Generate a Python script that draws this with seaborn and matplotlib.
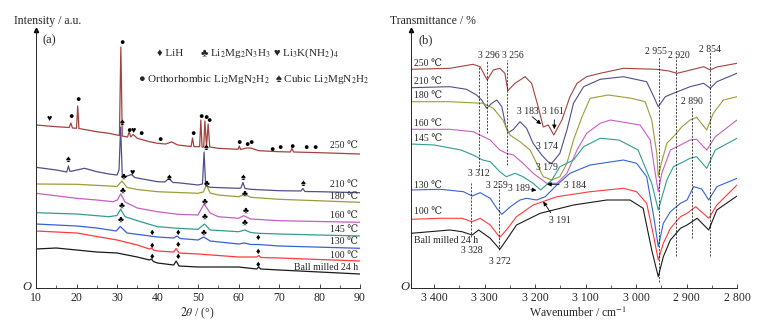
import matplotlib.pyplot as plt
import seaborn as sns

sns.set_style("ticks")
plt.rcParams['font.family'] = ['Liberation Serif', 'DejaVu Serif', 'DejaVu Sans']
plt.rcParams['mathtext.fontset'] = 'stix'

# ---- (a) XRD patterns, intensity in arbitrary stacked units ----
tt_250 = [10, 15, 18.2, 18.6, 19.0, 20.0, 20.3, 20.6, 25, 28, 30.6, 30.95, 31.3, 32.6, 33.0,
          33.4, 34.0, 35, 38, 40, 42, 43.5, 45, 48.3, 48.65, 49.0, 50.4, 50.7, 51.0, 51.4,
          51.7, 52.1, 52.5, 52.9, 55, 59.9, 60.2, 60.5, 62, 63, 65, 70, 72.8, 73.2, 73.6, 80, 90]
i_250 = [163, 161.3, 160.5, 165, 160, 159.7, 182, 159.5, 156.3, 154.7, 152.5, 241, 152, 151, 156,
         151, 153.5, 149.7, 146.3, 144.7, 144, 146, 143, 141.5, 150, 141.3, 141.3, 168, 141, 141,
         167, 141, 164, 141, 139.7, 138.7, 142, 138.5, 140, 140, 137.3, 136.3, 136, 139.7, 136, 135.3, 134]
tt_210 = [10, 15, 17.6, 18.0, 18.4, 19, 22, 25, 28, 30.0, 30.5, 30.9, 31.3, 32, 33.6, 34.4, 35, 40,
          41.8, 42.8, 43.8, 45, 50, 51.1, 51.5, 51.9, 53, 60, 60.6, 61.1, 61.6, 63, 70, 75.4, 75.9,
          76.4, 80, 90]
i_210 = [120.7, 118, 116, 122, 116.5, 117, 119.7, 116.3, 114, 113, 118, 161, 112, 111.3, 113.5,
         110.5, 110, 106.3, 106, 109.5, 105.5, 105.3, 103, 104, 136, 102, 100.7, 99.7, 100, 105.5,
         99.5, 98.7, 97.3, 97, 99.5, 96.5, 96.3, 95.3]
tt_180 = [10, 20, 28, 30, 31.2, 32.5, 35, 40, 50, 51.3, 52.1, 53, 55, 60, 61.6, 63, 70, 90]
i_180 = [104, 103.7, 102, 101.5, 107, 100.5, 98.5, 96.3, 94.7, 96, 103, 95, 93, 91.3, 93.7, 90.7, 88.7, 85.7]
tt_160 = [10, 20, 25, 29, 30.1, 30.9, 32, 35, 40, 45, 50, 51.5, 53, 55, 60, 61.3, 63, 70, 90]
i_160 = [94.7, 89.7, 88, 86.3, 88, 94, 86, 80, 76.3, 73.7, 73, 84, 75, 71.3, 69.7, 72.3, 69, 67.3, 65.7]
tt_145 = [10, 20, 28, 30, 30.9, 32, 35, 40, 45, 50, 51.6, 53, 60, 61.6, 63, 65, 70, 90]
i_145 = [75.3, 74, 71.3, 72.5, 78.7, 71.3, 67.3, 61.3, 59.7, 58.7, 64, 58, 56.3, 58, 55.5, 54.7, 54, 52]
tt_130 = [10, 20, 25, 29.8, 30.8, 32.5, 40, 44, 44.8, 45.6, 50, 51.4, 53, 60, 61.5, 63, 65, 70, 90]
i_130 = [64, 62, 60, 57, 61.5, 55, 51, 50, 52, 49.5, 48, 51, 47, 44, 45, 43.5, 43.5, 42, 39.7]
tt_100 = [10, 20, 30, 35, 38, 38.5, 39, 40, 44, 44.6, 45.3, 50, 60, 64.5, 65, 65.5, 70, 80, 90]
i_100 = [57, 55, 48, 43, 39, 40, 38, 37, 36, 39.5, 35, 34, 31, 31, 32.5, 30.5, 30, 28.5, 27]
tt_bm = [10, 15, 20, 25, 30, 35, 38, 38.5, 39, 40, 44, 44.6, 45.3, 50, 60, 64.5, 65, 65.5, 70, 80, 90]
i_bm = [39, 40, 38, 36, 35, 31, 28, 29, 26.5, 25, 23, 27, 22, 21, 21, 19, 21, 19, 18, 16, 14]

# phase markers (2theta, height)
lih_x = [38.6, 45.1, 64.9, 38.6, 45.1, 64.9, 38.6, 45.1, 64.9]
lih_y = [55.3, 55.3, 49.7, 42, 43, 36.3, 31.3, 31.3, 23]
club_x = [31.7, 52.1, 31.3, 51.7, 61.6, 31.2, 51.7, 61.8, 30.9, 51.5, 61.6]
club_y = [111.3, 104, 97.3, 86.3, 94, 82, 70.7, 77.3, 68, 54.7, 64.7]
heart_x = [13.2, 34.0, 33.8]
heart_y = [169, 157.3, 114.7]
orth_x = [18.6, 20.3, 31.2, 33.0, 35.8, 40.6, 48.7, 50.7, 51.9, 52.8, 60.2, 62.0, 63.0,
          68.2, 70.2, 73.3, 76.6, 78.9]
orth_y = [170.7, 188, 244.7, 157, 153.7, 148, 153.7, 171.3, 169.7, 167.3, 145.3, 143, 145.3,
          138, 139.7, 141.3, 139.7, 139.7]
cubic_x = [18.0, 31.2, 42.8, 51.9, 61.2, 76.0]
cubic_y = [128, 165.3, 109.7, 139.7, 109.7, 103.7]

# ---- (b) FTIR spectra ----
wn_250 = [3446, 3369, 3323, 3309, 3295, 3283, 3270, 3260, 3254, 3240, 3220, 3207, 3194, 3184, 3174,
          3163, 3147, 3131, 3117, 3098, 3071, 3025, 2959, 2935, 2919, 2900, 2866, 2853, 2840, 2800]
t_250 = [218.7, 219.7, 223.7, 221.3, 208, 218, 219.7, 214.7, 197.3, 204.7, 211.3, 204.7, 181.3, 161, 163,
         153, 168, 191.3, 204.7, 211.3, 214.7, 219.7, 218.7, 217, 214.7, 217, 221.3, 218, 221, 224.7]
wn_210 = [3446, 3369, 3336, 3316, 3306, 3296, 3286, 3276, 3266, 3258, 3253, 3243, 3230, 3217, 3204,
          3187, 3174, 3167, 3151, 3137, 3124, 3104, 3071, 3025, 2979, 2965, 2956, 2942, 2926, 2893,
          2866, 2853, 2840, 2800]
t_210 = [200.3, 201.3, 198.7, 193, 188, 179.7, 184.7, 188, 181.3, 161.3, 155.3, 158.7, 166.3, 159.7, 144.7,
         133, 126, 124.7, 134.7, 158, 184.7, 201.3, 208.7, 211.3, 206.3, 191.3, 181.3, 191.3, 194.7, 201.3,
         204.7, 199.7, 206.3, 214.7]
wn_180 = [3446, 3369, 3304, 3283, 3264, 3250, 3230, 3210, 3197, 3184, 3167, 3151, 3137, 3124, 3107,
          3091, 3055, 3009, 2982, 2969, 2959, 2956, 2950, 2939, 2923, 2909, 2893, 2880, 2860, 2847, 2827, 2800]
t_180 = [186.3, 186.3, 184.7, 179.7, 168, 153, 146.3, 138, 124.7, 111.3, 108, 111.3, 124.7, 148, 171.3,
         189.7, 193, 189.7, 186.3, 168, 134.7, 111.3, 124.7, 144.7, 153, 161.3, 168, 170.7, 158, 174.7, 188, 191.3]
wn_160 = [3446, 3369, 3323, 3289, 3270, 3257, 3243, 3224, 3204, 3177, 3157, 3137, 3117, 3098, 3071,
          3051, 2992, 2972, 2962, 2956, 2949, 2932, 2912, 2893, 2880, 2860, 2843, 2800]
t_160 = [158.7, 158.7, 156.3, 148, 138, 134.7, 133, 124.7, 114.7, 104.7, 104.7, 114.7, 138, 154.7, 164.7,
         168, 163, 148, 114.7, 96.3, 114.7, 138, 143, 148, 148.7, 138, 151.3, 168]
wn_145 = [3446, 3400, 3347, 3323, 3304, 3289, 3270, 3257, 3240, 3224, 3204, 3189, 3167, 3151, 3124,
          3104, 3071, 3034, 2996, 2969, 2956, 2939, 2926, 2906, 2893, 2880, 2860, 2843, 2800]
t_145 = [144, 143, 138, 133, 128, 126.3, 116.3, 111.3, 114.7, 111.3, 104.7, 98, 108, 121.3, 128,
         141.3, 149.7, 148, 138, 104.7, 78, 108, 121.3, 126.3, 129.7, 131.3, 119.7, 138, 149.7]
wn_130 = [3446, 3388, 3342, 3325, 3309, 3289, 3276, 3266, 3249, 3230, 3217, 3197, 3180, 3157, 3131,
          3091, 3025, 2999, 2979, 2965, 2956, 2946, 2932, 2912, 2899, 2886, 2870, 2856, 2840, 2800]
t_130 = [98, 98.7, 96.3, 92, 95.3, 89.7, 79.7, 73.7, 81.3, 88, 89.7, 88, 91.3, 103, 114.7,
         123, 128, 124.7, 111.3, 71.3, 41.3, 64.7, 76.3, 84.7, 88, 101.3, 99, 88, 101.3, 109.7]
wn_100 = [3446, 3388, 3345, 3325, 3309, 3289, 3270, 3257, 3237, 3204, 3157, 3091, 3025, 2999, 2979,
          2965, 2956, 2946, 2932, 2912, 2899, 2882, 2856, 2840, 2800]
t_100 = [68.7, 69.7, 69.7, 66.3, 69.7, 63, 50.7, 58, 71.3, 83, 91.3, 96.3, 99.7, 96.3, 84.7,
         51.3, 28, 44.7, 59.7, 71.3, 74.7, 81.3, 69.7, 83, 103]
wn_bm = [3446, 3369, 3345, 3325, 3312, 3289, 3270, 3257, 3237, 3190, 3124, 3058, 3012, 2986, 2969,
         2956, 2946, 2932, 2912, 2899, 2879, 2856, 2840, 2800]
t_bm = [54.7, 58, 56.3, 53, 58, 49.7, 38.7, 48, 63, 74.7, 83, 88, 88, 79.7, 38,
        11.3, 31.3, 48, 59.7, 63, 69.7, 58, 78, 92]

# band guide lines (wavenumber, lower, upper)
band_wn = [3328, 3312, 3296, 3272, 3256, 2955, 2920, 2890, 2854]
band_lo = [51, 118, 155, 38, 123, 6, 32, 50, 32]
band_hi = [105, 222, 228, 105, 228, 231, 233, 181, 236]

# band labels (text, x, y)
lbl_txt = ["3 296", "3 256", "3 183", "3 161", "3 174", "3 179", "3 312", "3 259", "3 189",
           "3 184", "3 191", "3 328", "3 272", "2 955", "2 920", "2 854", "2 890"]
lbl_x = [3292, 3245, 3215, 3164, 3177, 3177, 3311, 3276, 3232, 3121, 3151, 3326, 3270,
         2960, 2916, 2853, 2889]
lbl_y = [232, 232, 176.3, 176.3, 141.3, 120.3, 114, 102, 99.7, 102, 67.3, 37.3, 26.3,
         236.3, 233, 238.7, 186.3]
# arrows (tail x, tail y, head x, head y)
arr_x0 = [3210, 3162, 3147, 3214, 3166]
arr_y0 = [173, 171, 103.7, 98.7, 73]
arr_x1 = [3184, 3162, 3182, 3192, 3187]
arr_y1 = [162, 156, 103.7, 97.3, 88.7]

temps = ["250 ℃", "210 ℃", "180 ℃", "160 ℃", "145 ℃", "130 ℃", "100 ℃", "Ball milled 24 h"]
colors = ["#a3423f", "#4f4f8e", "#9c9c38", "#c45fc4", "#2f9e90", "#3563d4", "#ff3a3a", "#1a1a1a"]
xrd_x = [tt_250, tt_210, tt_180, tt_160, tt_145, tt_130, tt_100, tt_bm]
xrd_y = [i_250, i_210, i_180, i_160, i_145, i_130, i_100, i_bm]
ir_x = [wn_250, wn_210, wn_180, wn_160, wn_145, wn_130, wn_100, wn_bm]
ir_y = [t_250, t_210, t_180, t_160, t_145, t_130, t_100, t_bm]
xrd_lbl_y = [142.3, 103.7, 91.3, 73, 58, 46.3, 33, 20.7]
ir_lbl_y = [224.7, 206.3, 192.3, 164.7, 149.7, 102, 76.3, 47.3]

fig = plt.figure(figsize=(7.73, 3.28), dpi=100)
ax1 = fig.add_axes([36 / 773, 40 / 328, 324 / 773, 258 / 328])
ax2 = fig.add_axes([411 / 773, 40 / 328, 326 / 773, 258 / 328])

for x, y, c in zip(xrd_x, xrd_y, colors):
    sns.lineplot(x=x, y=y, ax=ax1, color=c, lw=0.9, estimator=None, sort=False)
for x, y, c in zip(ir_x, ir_y, colors):
    sns.lineplot(x=x, y=y, ax=ax2, color=c, lw=0.8, estimator=None, sort=False)

# phase symbols on the XRD curves
sym_kw = dict(ha='center', va='center', fontsize=6.5, color='black')
for xs, ys, s in [(lih_x, lih_y, '♦'), (club_x, club_y, '♣'), (heart_x, heart_y, '♥'),
                  (orth_x, orth_y, '●'), (cubic_x, cubic_y, '♠')]:
    for xx, yy in zip(xs, ys):
        ax1.text(xx, yy, s, **sym_kw)

# legend written as text
leg_kw = dict(fontsize=8, va='center')
ax1.text(39.8, 235, '♦ LiH', **leg_kw)
ax1.text(50.4, 235, '♣ Li$_2$Mg$_2$N$_3$H$_3$', **leg_kw)
ax1.text(68.4, 235, '♥ Li$_3$K(NH$_2$)$_4$', **leg_kw)
ax1.text(35.3, 208, '● Orthorhombic Li$_2$MgN$_2$H$_2$', **leg_kw)
ax1.text(69.0, 208, '♠ Cubic Li$_2$MgN$_2$H$_2$', **leg_kw)

for t, yy in zip(temps, xrd_lbl_y):
    ax1.text(89.5, yy, t, ha='right', va='center', fontsize=7)
for t, yy in zip(temps, ir_lbl_y):
    ax2.text(3441, yy, t, ha='left', va='center', fontsize=7)

# FTIR guide lines, labels and arrows
for w, lo, hi in zip(band_wn, band_lo, band_hi):
    ax2.plot([w, w], [lo, hi], color='black', ls=(0, (3, 2)), lw=0.5)
for t, xx, yy in zip(lbl_txt, lbl_x, lbl_y):
    ax2.text(xx, yy, t, ha='center', va='center', fontsize=7)
for x0, y0, x1, y1 in zip(arr_x0, arr_y0, arr_x1, arr_y1):
    ax2.annotate('', xy=(x1, y1), xytext=(x0, y0),
                 arrowprops=dict(arrowstyle='-|>', color='black', lw=0.6, mutation_scale=6))

ax1.set_xlim(10, 90)
ax1.set_ylim(0, 258)
ax1.set_xticks(range(10, 91, 10))
ax1.set_xticks(range(15, 90, 10), minor=True)
ax2.set_xlim(3446, 2800)
ax2.set_ylim(0, 258)
ax2.set_xticks([3400, 3300, 3200, 3100, 3000, 2900, 2800])
ax2.set_xticklabels(["3 400", "3 300", "3 200", "3 100", "3 000", "2 900", "2 800"])
ax2.set_xticks(range(2850, 3446, 100), minor=True)

for ax in (ax1, ax2):
    sns.despine(ax=ax)
    ax.set_yticks([])
    ax.set_xlabel('')
    ax.set_ylabel('')
    ax.tick_params(axis='x', direction='in', length=3, width=0.6, labelsize=8.5, pad=3)
    ax.tick_params(axis='x', which='minor', direction='in', length=2, width=0.5)
    for sp in ('left', 'bottom'):
        ax.spines[sp].set_linewidth(0.7)
    ax.plot(0, 1, marker='^', ms=3, color='black', transform=ax.transAxes, clip_on=False)
    ax.set_facecolor('white')

ax1.text(11.7, 248, '(a)', fontsize=9, va='center')
ax2.text(3432, 248, '(b)', fontsize=9, va='center')

fig.text(14 / 773, 1 - 21 / 328, 'Intensity / a.u.', fontsize=8.5, va='center')
fig.text(390 / 773, 1 - 21 / 328, 'Transmittance / %', fontsize=8.5, va='center')
fig.text(197 / 773, 1 - 313 / 328, r'$\mathit{2\theta}$ / (°)', fontsize=8.5, ha='center', va='center')
fig.text(578 / 773, 1 - 313 / 328, 'Wavenumber / cm$^{-1}$', fontsize=8.5, ha='center', va='center')
fig.text(27 / 773, 1 - 287 / 328, 'O', fontsize=9, style='italic', ha='center', va='center')
fig.text(405 / 773, 1 - 287 / 328, 'O', fontsize=9, style='italic', ha='center', va='center')

fig.savefig('out.png', dpi=100)
